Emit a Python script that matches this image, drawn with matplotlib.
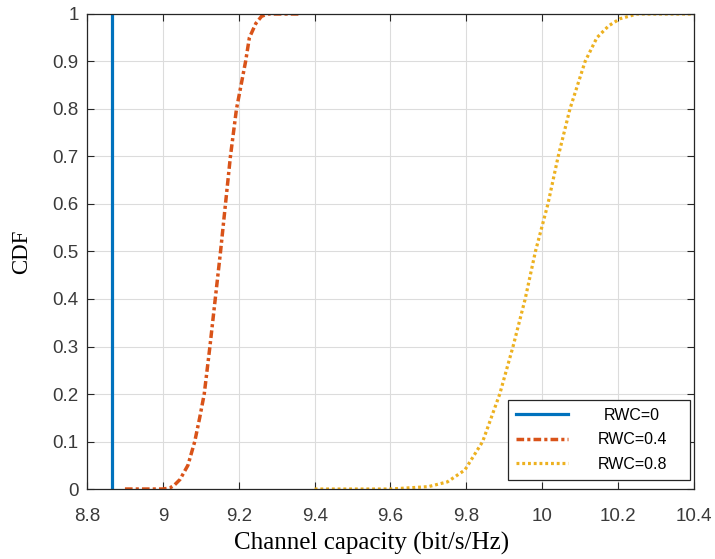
import matplotlib
matplotlib.use('Agg')
import matplotlib.pyplot as plt
from matplotlib.transforms import Affine2D

# CDF of channel capacity for three RWC values
cap_rwc0 = [8.866, 8.866]
cdf_rwc0 = [0.0, 1.0]

cap_rwc04 = [8.90, 8.95, 9.00, 9.018, 9.03, 9.045, 9.066, 9.084, 9.097, 9.109, 9.124,
             9.138, 9.152, 9.165, 9.178, 9.194, 9.218, 9.228, 9.245, 9.26, 9.276, 9.30, 9.36]
cdf_rwc04 = [0.0, 0.0, 0.0, 0.002, 0.008, 0.02, 0.05, 0.10, 0.15, 0.20, 0.30,
             0.40, 0.50, 0.60, 0.70, 0.80, 0.90, 0.95, 0.98, 0.995, 1.0, 1.0, 1.0]

cap_rwc08 = [9.40, 9.50, 9.60, 9.70, 9.75, 9.796, 9.843, 9.888, 9.923, 9.955, 9.982,
             10.015, 10.042, 10.073, 10.113, 10.144, 10.175, 10.205, 10.25, 10.30, 10.40]
cdf_rwc08 = [0.0, 0.0, 0.0, 0.005, 0.015, 0.04, 0.10, 0.20, 0.30, 0.40, 0.50,
             0.60, 0.70, 0.80, 0.90, 0.95, 0.975, 0.99, 1.0, 1.0, 1.0]

labels = ['RWC=0', 'RWC=0.4', 'RWC=0.8']
colors = ['#0072BD', '#D95319', '#EDB120']

xticks = [8.8, 9, 9.2, 9.4, 9.6, 9.8, 10, 10.2, 10.4]
yticks = [0, 0.1, 0.2, 0.3, 0.4, 0.5, 0.6, 0.7, 0.8, 0.9, 1]

fig = plt.figure(figsize=(7.15, 5.59), dpi=100)
ax = fig.add_axes([0.1217, 0.1252, 0.8489, 0.8498])

ax.plot(cap_rwc0, cdf_rwc0, color=colors[0], lw=2.3, ls='-', label=labels[0])
ax.plot(cap_rwc04, cdf_rwc04, color=colors[1], lw=2.5,
        ls=(0, (2.2, 0.9, 0.9, 0.9)), label=labels[1])
ax.plot(cap_rwc08, cdf_rwc08, color=colors[2], lw=2.3, ls=(0, (0.9, 0.9)),
        label=labels[2])

ax.set_xlim(8.8, 10.4)
ax.set_ylim(0, 1)
ax.set_xticks(xticks)
ax.set_xticklabels(['8.8', '9', '9.2', '9.4', '9.6', '9.8', '10', '10.2', '10.4'])
ax.set_yticks(yticks)
ax.set_yticklabels(['0', '0.1', '0.2', '0.3', '0.4', '0.5', '0.6', '0.7', '0.8', '0.9', '1'])

ax.grid(True, color='#dcdcdc', lw=0.8)
ax.set_axisbelow(True)
for sp in ax.spines.values():
    sp.set_color('#262626')
    sp.set_linewidth(0.9)
ax.tick_params(direction='in', length=5, width=0.8, color='#262626',
               top=True, right=True, labelsize=13.5, labelcolor='#3a3a3a')
ax.tick_params(axis='x', pad=14)
ax.tick_params(axis='y', pad=6)
for t in ax.get_xticklabels() + ax.get_yticklabels():
    t.set_fontfamily('Liberation Sans')

ax.set_xlabel('Channel capacity (bit/s/Hz)', fontfamily='Liberation Serif', fontsize=18)
ax.set_ylabel('CDF', fontfamily='Liberation Serif', fontsize=16.5)
ax.xaxis.set_label_coords(0.4695, -0.09)
ax.yaxis.set_label_coords(-0.09, 0.5)

leg = ax.legend(loc='lower left', bbox_to_anchor=(0.6936, 0.019, 0.2998, 0.168),
                mode='expand', borderaxespad=0, fancybox=False, framealpha=1,
                edgecolor='#262626', handlelength=3.25, handletextpad=1.85,
                labelspacing=0.6, borderpad=0.5,
                prop={'family': 'Liberation Sans', 'size': 11.5})
leg.get_frame().set_linewidth(0.9)
# centre the shorter label over the others
t0 = leg.get_texts()[0]
t0.set_transform(t0.get_transform() + Affine2D().translate(6, 0))

fig.savefig('out.png', dpi=100)
